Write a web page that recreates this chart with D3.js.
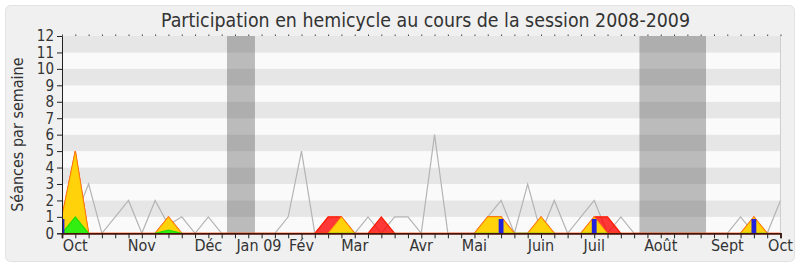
<!DOCTYPE html>
<html>
<head>
<meta charset="utf-8">
<script src="https://cdn.jsdelivr.net/npm/d3@7"></script>
<style>
  body { margin: 0; background: #fff; }
  svg { display: block; font-family: "DejaVu Sans Condensed", "DejaVu Sans", sans-serif; font-stretch: condensed; }
</style>
</head>
<body>
<svg id="chart"></svg>
<script>
// one value per week, 55 weeks (index 0 = first week of the session)
const weeks = d3.range(55);
const grayLine = [1,1,3,0,1,2,0,2,0.5,1,0,1,0,0,0,0,0,1,5,0,0,0,0,1,0,1,1,0,6,0,0,0,1,2,0,3,0,2,0,1,2,0,1,0,0,0,0,0,0,0,0,1,0,0,2];
const redSeries = [1,5,0,0,0,0,0,0,1,0,0,0,0,0,0,0,0,0,0,0,1,1,0,0,1,0,0,0,0,0,0,0,1,1,0,0,1,0,0,0,1,1,0,0,0,0,0,0,0,0,0,0,1,0,0];
const yellowSeries = [1,5,0,0,0,0,0,0,1,0,0,0,0,0,0,0,0,0,0,0,0,1,0,0,0,0,0,0,0,0,0,0,1,1,0,0,1,0,0,0,1,0,0,0,0,0,0,0,0,0,0,0,1,0,0];
const n = null;
const greenSeries = [0,1,0,n,n,n,n,0,0.2,0,n,n,n,n,n,n,n,n,n,n,0,0,0,n,n,n,n,n,n,n,n,0,0,0,0,0,0,0,n,0,0,0,n,n,n,n,n,n,n,n,n,0,0,0,n];
const blueWeeks = [0, 33, 40, 52];
const blueValues = [0.87, 0.87, 0.87, 0.87];
const vacations = [[12.4, 14.5], [43.4, 48.4]];
const monthWeeks = [1, 6, 11, 14.8, 18, 22, 27, 31, 36, 40, 45, 50, 54];
const monthLabels = ['Oct', 'Nov', 'Déc', 'Jan 09', 'Fév', 'Mar', 'Avr', 'Mai', 'Juin', 'Juil', 'Août', 'Sept', 'Oct'];
const yTicks = d3.range(0, 13);

const width = 800, height = 267;
const margin = {top: 36, right: 19.5, bottom: 33.7, left: 62};
const innerW = width - margin.left - margin.right;
const innerH = height - margin.top - margin.bottom;

const svg = d3.select('#chart').attr('width', width).attr('height', height);

// panel
svg.append('rect')
    .attr('x', 5.5).attr('y', 5.5)
    .attr('width', 789).attr('height', 256)
    .attr('rx', 5)
    .attr('fill', '#f0f0f0')
    .attr('stroke', '#e2e2e2');

svg.append('text')
    .attr('x', 425.5).attr('y', 27)
    .attr('text-anchor', 'middle')
    .attr('textLength', 529)
    .attr('lengthAdjust', 'spacingAndGlyphs')
    .style('font-size', '20px')
    .attr('fill', '#333')
    .text('Participation en hemicycle au cours de la session 2008-2009');

const chart = svg.append('g')
    .attr('transform', `translate(${margin.left}, ${margin.top})`);

const xscale = d3.scaleLinear().domain([0, 54]).range([0, innerW]);
const yscale = d3.scaleLinear().domain([0, 12]).range([innerH, 0]);

chart.append('clipPath').attr('id', 'clip')
    .append('rect').attr('width', innerW).attr('height', innerH);

// alternating bands
chart.selectAll('.band')
    .data(yTicks.slice(0, 12))
    .join('rect')
    .attr('x', 0)
    .attr('width', innerW)
    .attr('y', d => yscale(d + 1))
    .attr('height', d => yscale(d) - yscale(d + 1))
    .attr('fill', d => d % 2 === 1 ? '#e6e6e6' : '#fafafa');

// right border
chart.append('line')
    .attr('x1', innerW).attr('x2', innerW)
    .attr('y1', 0).attr('y2', innerH)
    .attr('stroke', '#cfcfcf');

const plot = chart.append('g').attr('clip-path', 'url(#clip)');

// holidays
plot.selectAll('.vac')
    .data(vacations)
    .join('rect')
    .attr('x', d => xscale(d[0]))
    .attr('width', d => xscale(d[1]) - xscale(d[0]))
    .attr('y', 0)
    .attr('height', innerH)
    .attr('fill', 'rgba(70,70,70,0.35)');

const line = d3.line()
    .x((d, i) => xscale(i))
    .y(d => yscale(d));

plot.append('path')
    .attr('d', line(grayLine))
    .attr('fill', 'none')
    .attr('stroke', '#b4b4b4')
    .attr('stroke-width', 1.2);

const area = d3.area()
    .defined(d => d != null)
    .x((d, i) => xscale(i))
    .y0(yscale(0))
    .y1(d => yscale(d));

plot.append('path')
    .attr('d', area(redSeries))
    .attr('fill', 'rgba(255,0,0,0.78)')
    .attr('stroke', '#ff1a00')
    .attr('stroke-width', 1.2);

plot.append('path')
    .attr('d', area(yellowSeries))
    .attr('fill', '#ffd20a')
    .attr('stroke', 'rgba(255,150,0,0.6)')
    .attr('stroke-width', 1.2);

plot.append('path')
    .attr('d', area(greenSeries))
    .attr('fill', '#33ee11')
    .attr('stroke', '#22dd00')
    .attr('stroke-width', 1.2);

plot.selectAll('.bar')
    .data(blueWeeks)
    .join('rect')
    .attr('x', d => xscale(d) - 2.4)
    .attr('width', 4.8)
    .attr('y', (d, i) => yscale(blueValues[i]))
    .attr('height', (d, i) => yscale(0) - yscale(blueValues[i]))
    .attr('fill', '#2222dd');

// axes
const yaxis = d3.axisLeft(yscale).tickValues(yTicks).tickSize(5).tickPadding(3);
const yg = chart.append('g').call(yaxis);
yg.select('.domain').attr('stroke', '#222');
yg.selectAll('.tick line').attr('stroke', '#222');
yg.selectAll('text').style('font-size', '15px').attr('fill', '#333')
    .style('font-family', '"DejaVu Sans Condensed", "DejaVu Sans", sans-serif');

const xaxis = d3.axisBottom(xscale).tickValues(weeks).tickSize(5).tickFormat('');
const xg = chart.append('g').attr('transform', `translate(0, ${innerH})`).call(xaxis);
xg.select('.domain').attr('stroke', '#4a1208').attr('stroke-width', 1.8);
xg.selectAll('.tick line').attr('stroke', '#222');

chart.append('g').selectAll('text')
    .data(monthWeeks)
    .join('text')
    .attr('x', d => xscale(d))
    .attr('y', innerH + 18)
    .attr('text-anchor', 'middle')
    .style('font-size', '16px')
    .attr('fill', '#333')
    .text((d, i) => monthLabels[i]);

// tiny ticks on top
const topaxis = d3.axisTop(xscale).tickValues(weeks).tickSize(1.5).tickFormat('');
const tg = chart.append('g').call(topaxis);
tg.select('.domain').remove();
tg.selectAll('.tick line').attr('stroke', '#444');

svg.append('text')
    .attr('transform', `translate(23, ${margin.top + innerH / 2}) rotate(-90)`)
    .attr('text-anchor', 'middle')
    .style('font-size', '16px')
    .attr('fill', '#333')
    .text('Séances par semaine');
</script>
</body>
</html>
